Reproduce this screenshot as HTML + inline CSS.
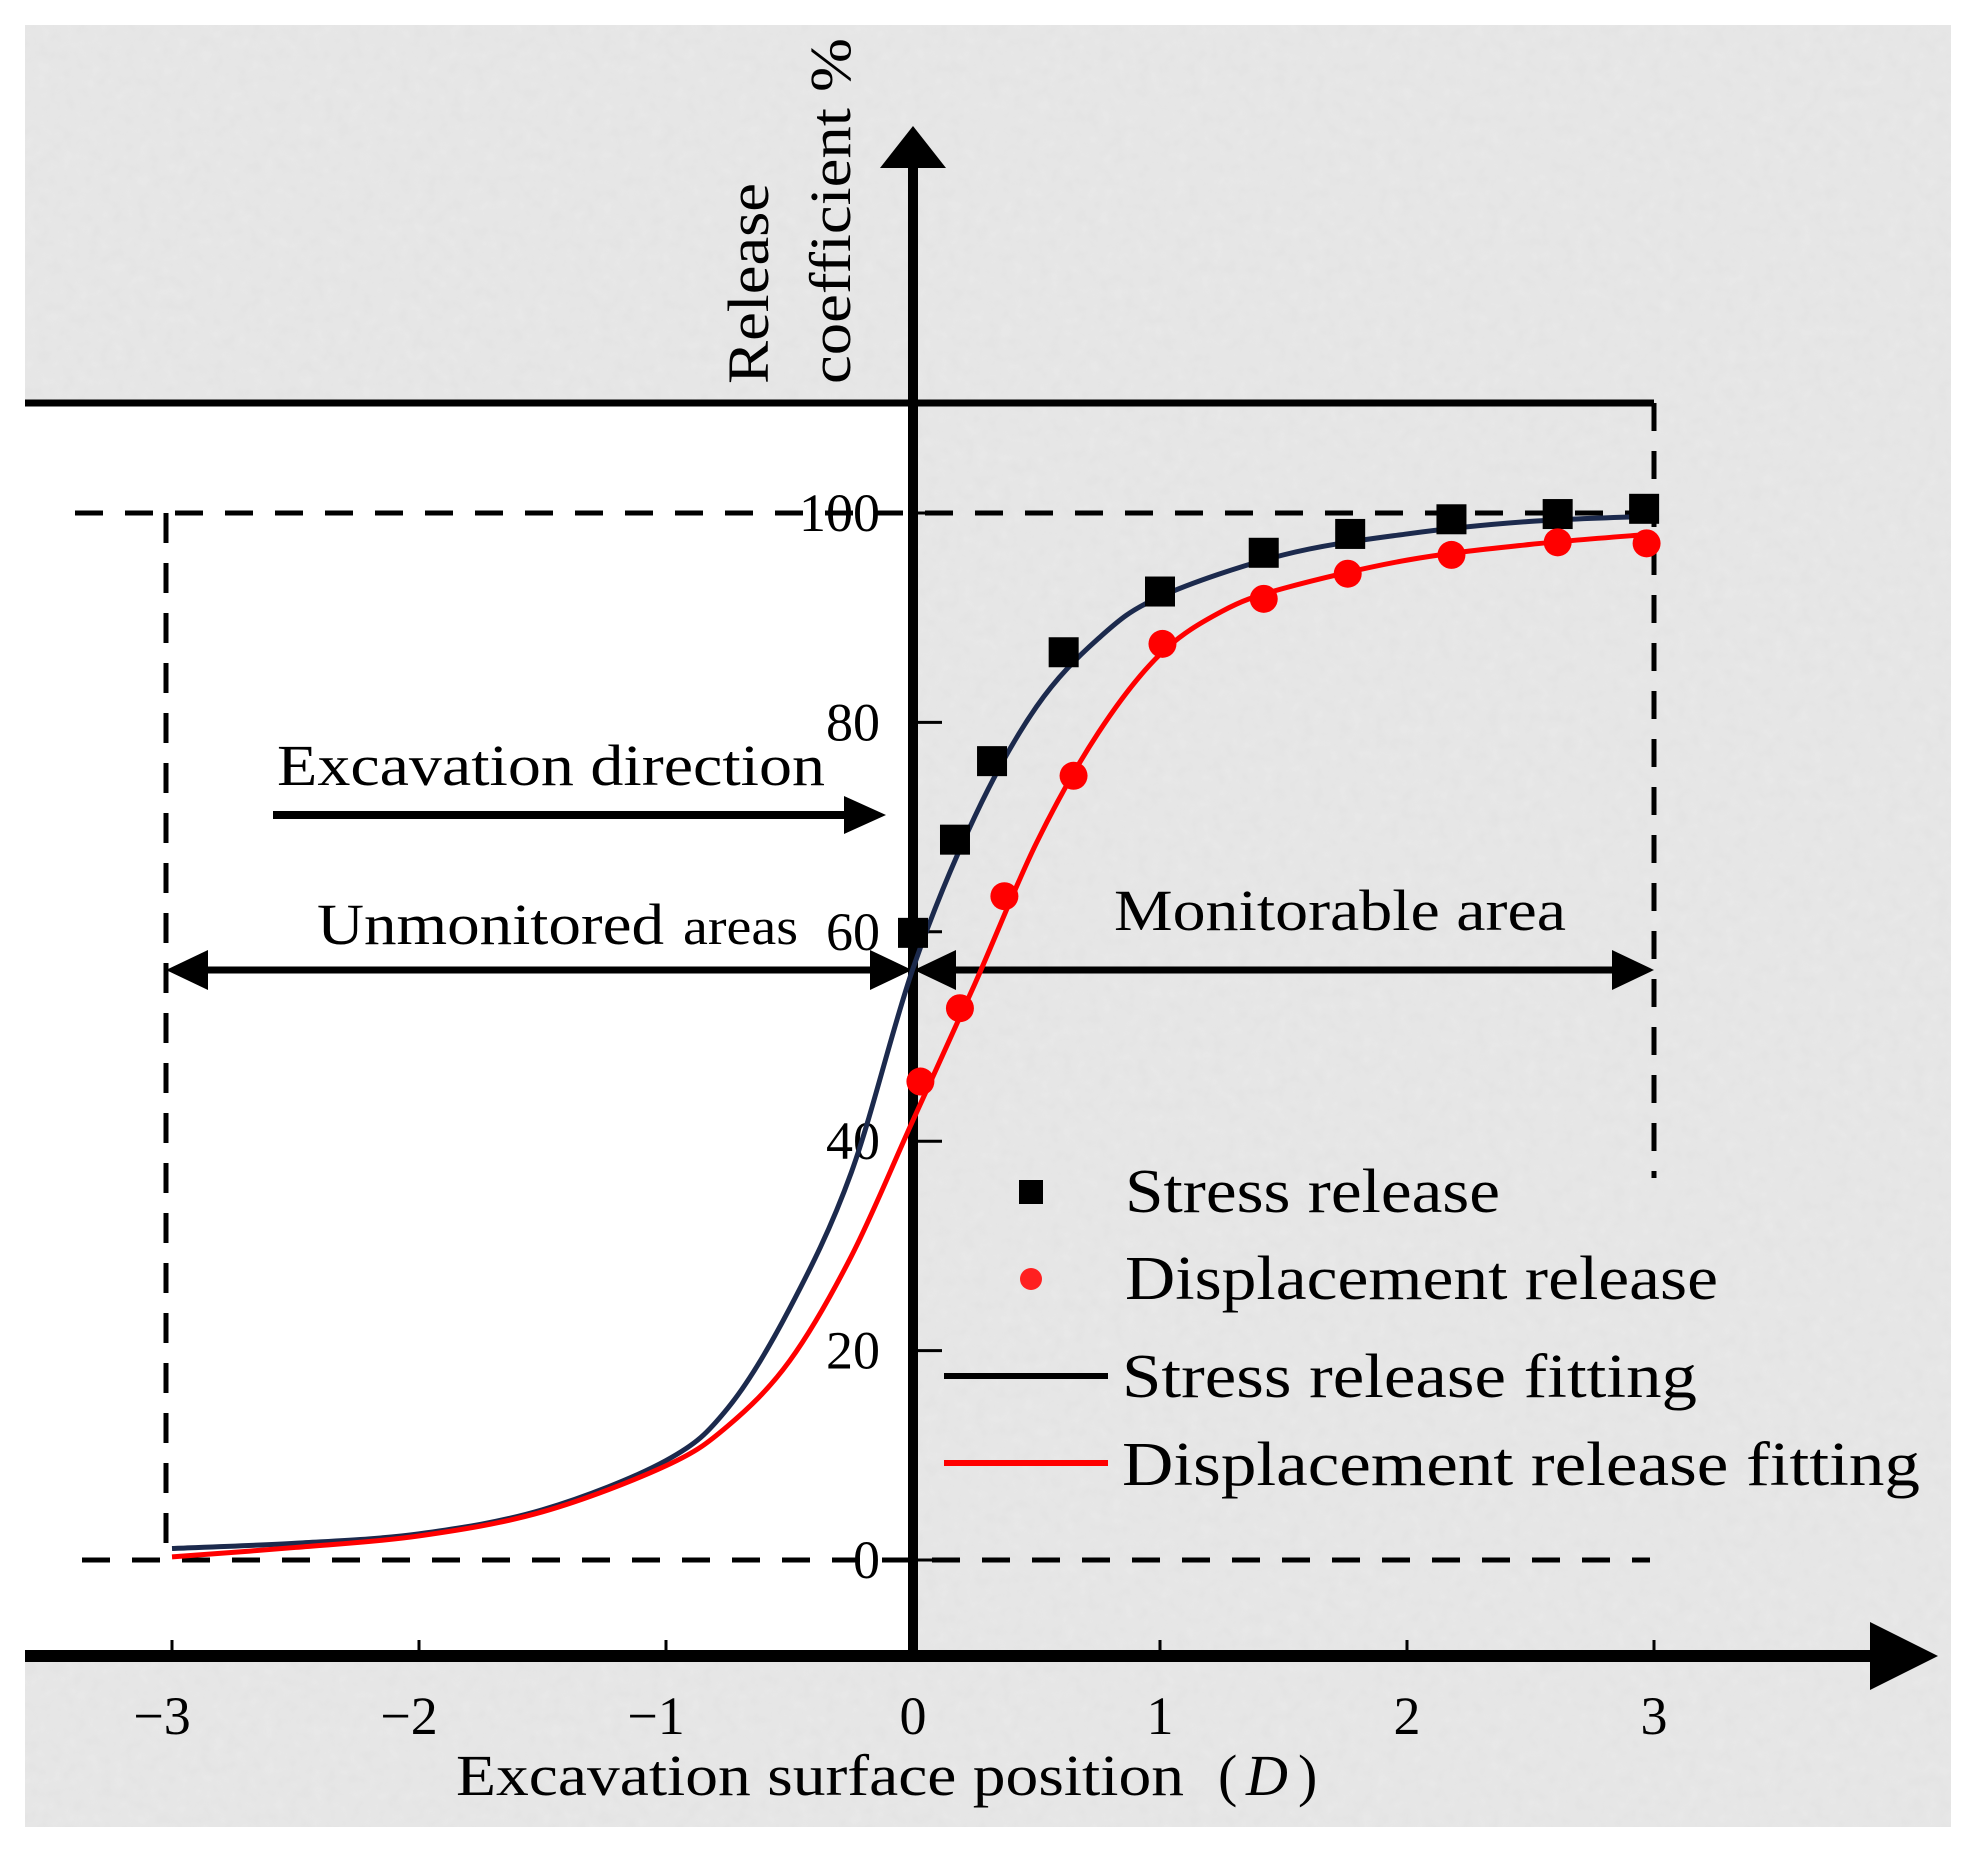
<!DOCTYPE html>
<html><head><meta charset="utf-8"><style>
html,body{margin:0;padding:0;background:#fff;}
svg{display:block;}
text{font-family:"Liberation Serif","Noto Serif CJK SC",serif;fill:#000;}
</style></head><body>
<svg width="1971" height="1851" viewBox="0 0 1971 1851">
<defs>
<filter id="tex" x="0" y="0" width="100%" height="100%">
<feTurbulence type="fractalNoise" baseFrequency="0.08" numOctaves="2" seed="3"/>
<feColorMatrix type="matrix" values="0 0 0 0 0.5  0 0 0 0 0.5  0 0 0 0 0.5  0 0 0 0.45 0"/>
</filter>
</defs>
<rect x="25" y="25" width="1926" height="1802" fill="#e9e9e9"/>
<rect x="25" y="25" width="1926" height="1802" filter="url(#tex)" opacity="0.3"/>
<rect x="25" y="403" width="888" height="1253" fill="#fff"/>
<g id="chart"></g>
</svg>
<script>
const xTicks=[-3,-2,-1,0,1,2,3];
const yTicks=[0,20,40,60,80,100];
const stressX=[0,0.17,0.32,0.61,1.0,1.42,1.77,2.18,2.61,2.96];
const stressY=[59.9,68.8,76.3,86.7,92.5,96.2,98,99.4,99.9,100.4];
const dispX=[0.03,0.19,0.37,0.65,1.01,1.42,1.76,2.18,2.61,2.97];
const dispY=[45.7,52.7,63.4,74.9,87.5,91.8,94.2,96,97.2,97.1];
const stressFitX=[-3,-2.5,-2,-1.5,-1,-0.75,-0.5,-0.25,0,0.25,0.5,0.75,1,1.5,2,2.5,3];
const stressFitY=[1.1,1.6,2.5,4.8,9.5,14.5,24,37,56.5,71,81.5,88,92,96,98,99.2,99.7];
const dispFitX=[-3,-2.5,-2,-1.5,-1,-0.75,-0.5,-0.25,0,0.25,0.5,0.75,1,1.25,1.5,2,2.5,3];
const dispFitY=[0.3,1.2,2.3,4.6,9,12.8,19,29,42,55,68.5,79,86.5,90.6,92.8,95.5,97,98];

const NS='http://www.w3.org/2000/svg';
const g=document.getElementById('chart');
const X=v=>913+v*247;
const Y=v=>1560-v*10.47;
function mk(tag,attrs,parent){const e=document.createElementNS(NS,tag);for(const k in attrs)e.setAttribute(k,attrs[k]);(parent||g).appendChild(e);return e;}
function txt(s,attrs){const e=mk('text',attrs);e.textContent=s;return e;}
function smooth(xs,ys){const p=xs.map((x,i)=>[X(x),Y(ys[i])]);let d='M'+p[0][0]+','+p[0][1];
 for(let i=0;i<p.length-1;i++){const p0=p[i-1]||p[i],p1=p[i],p2=p[i+1],p3=p[i+2]||p2;
 d+=' C'+(p1[0]+(p2[0]-p0[0])/6)+','+(p1[1]+(p2[1]-p0[1])/6)+' '+(p2[0]-(p3[0]-p1[0])/6)+','+(p2[1]-(p3[1]-p1[1])/6)+' '+p2[0]+','+p2[1];}return d;}

let e;
e=mk('line',{x1:25,y1:403,x2:1654,y2:403,stroke:'#000','stroke-width':7});


e=mk('line',{x1:1654,y1:403,x2:1654,y2:1178,stroke:'#000','stroke-width':5,'stroke-dasharray':'28 20'});


e=mk('line',{x1:75,y1:Y(100),x2:1654,y2:Y(100),stroke:'#000','stroke-width':5,'stroke-dasharray':'28 22'});


e=mk('line',{x1:82,y1:Y(0),x2:1650,y2:Y(0),stroke:'#000','stroke-width':5,'stroke-dasharray':'28 22'});


e=mk('line',{x1:166,y1:Y(100),x2:166,y2:Y(0),stroke:'#000','stroke-width':5,'stroke-dasharray':'30 20'});


e=mk('line',{x1:913,y1:160,x2:913,y2:1662,stroke:'#000','stroke-width':10});


e=mk('polygon',{points:'913,126 880,168 946,168',fill:'#000'});


e=mk('line',{x1:25,y1:1656,x2:1880,y2:1656,stroke:'#000','stroke-width':12});


e=mk('polygon',{points:'1938,1656 1870,1622 1870,1690',fill:'#000'});


xTicks.forEach(t=>{
 e=mk('line',{x1:X(t),y1:1640,x2:X(t),y2:1652,stroke:'#000','stroke-width':3});
 
 
 e=txt(t<0?'\u2212'+(-t):String(t),{x:X(t)-(t<0?10:0),y:1734,'font-size':54,'text-anchor':'middle'});
 
 
});
yTicks.forEach(t=>{
 e=mk('line',{x1:913,y1:Y(t),x2:942,y2:Y(t),stroke:'#000','stroke-width':3});
 
 
 e=txt(String(t),{x:880,y:Y(t)+18,'font-size':54,'text-anchor':'end'});
 
 
});
e=txt('Excavation surface position',{x:456,y:1795,'font-size':58,textLength:728,lengthAdjust:'spacingAndGlyphs'});


e=txt('(',{x:1218,y:1795,'font-size':58});


e=txt('D',{x:1246,y:1795,'font-size':58,'font-style':'italic'});


e=txt(')',{x:1298,y:1795,'font-size':58});


e=txt('Release',{x:0,y:0,'font-size':58,textLength:201,lengthAdjust:'spacingAndGlyphs',transform:'translate(768,384) rotate(-90)'});


e=txt('coefficient %',{x:0,y:0,'font-size':58,textLength:346,lengthAdjust:'spacingAndGlyphs',transform:'translate(850,384) rotate(-90)'});


e=txt('Excavation direction',{x:277,y:785,'font-size':58,textLength:548,lengthAdjust:'spacingAndGlyphs'});


e=mk('line',{x1:273,y1:815,x2:850,y2:815,stroke:'#000','stroke-width':8});


e=mk('polygon',{points:'886,815 844,796 844,834',fill:'#000'});


e=txt('Unmonitored',{x:317,y:944,'font-size':58,textLength:347,lengthAdjust:'spacingAndGlyphs'});


e=txt('areas',{x:683,y:944,'font-size':52,textLength:115,lengthAdjust:'spacingAndGlyphs'});


e=txt('Monitorable area',{x:1114,y:930,'font-size':58,textLength:452,lengthAdjust:'spacingAndGlyphs'});


e=mk('line',{x1:200,y1:970,x2:880,y2:970,stroke:'#000','stroke-width':7});


e=mk('polygon',{points:'166,970 208,950 208,990',fill:'#000'});


e=mk('polygon',{points:'912,970 870,950 870,990',fill:'#000'});


e=mk('line',{x1:945,y1:970,x2:1620,y2:970,stroke:'#000','stroke-width':7});


e=mk('polygon',{points:'914,970 956,950 956,990',fill:'#000'});


e=mk('polygon',{points:'1654,970 1612,950 1612,990',fill:'#000'});


e=mk('path',{d:smooth(stressFitX,stressFitY),fill:'none',stroke:'#1c2a4d','stroke-width':5});


e=mk('path',{d:smooth(dispFitX,dispFitY),fill:'none',stroke:'#ff0000','stroke-width':5});


stressX.forEach((x,i)=>{
 e=mk('rect',{x:X(x)-15,y:Y(stressY[i])-15,width:30,height:30,fill:'#000'});
 
 
});
dispX.forEach((x,i)=>{
 e=mk('circle',{cx:X(x),cy:Y(dispY[i]),r:14,fill:'#ff0000'});
 
 
});
e=mk('rect',{x:1019,y:1180,width:24,height:24,fill:'#000'});


e=txt('Stress release',{x:1125,y:1212,'font-size':62,textLength:375,lengthAdjust:'spacingAndGlyphs'});


e=mk('circle',{cx:1031,cy:1279,r:11,fill:'#ff2020'});


e=txt('Displacement release',{x:1125,y:1299,'font-size':62,textLength:593,lengthAdjust:'spacingAndGlyphs'});


e=mk('line',{x1:944,y1:1376,x2:1108,y2:1376,stroke:'#000','stroke-width':6});


e=txt('Stress release fitting',{x:1122,y:1397,'font-size':62,textLength:575,lengthAdjust:'spacingAndGlyphs'});


e=mk('line',{x1:944,y1:1463,x2:1108,y2:1463,stroke:'#ff0000','stroke-width':6});


e=txt('Displacement release fitting',{x:1122,y:1485,'font-size':62,textLength:798,lengthAdjust:'spacingAndGlyphs'});


</script>
</body></html>
